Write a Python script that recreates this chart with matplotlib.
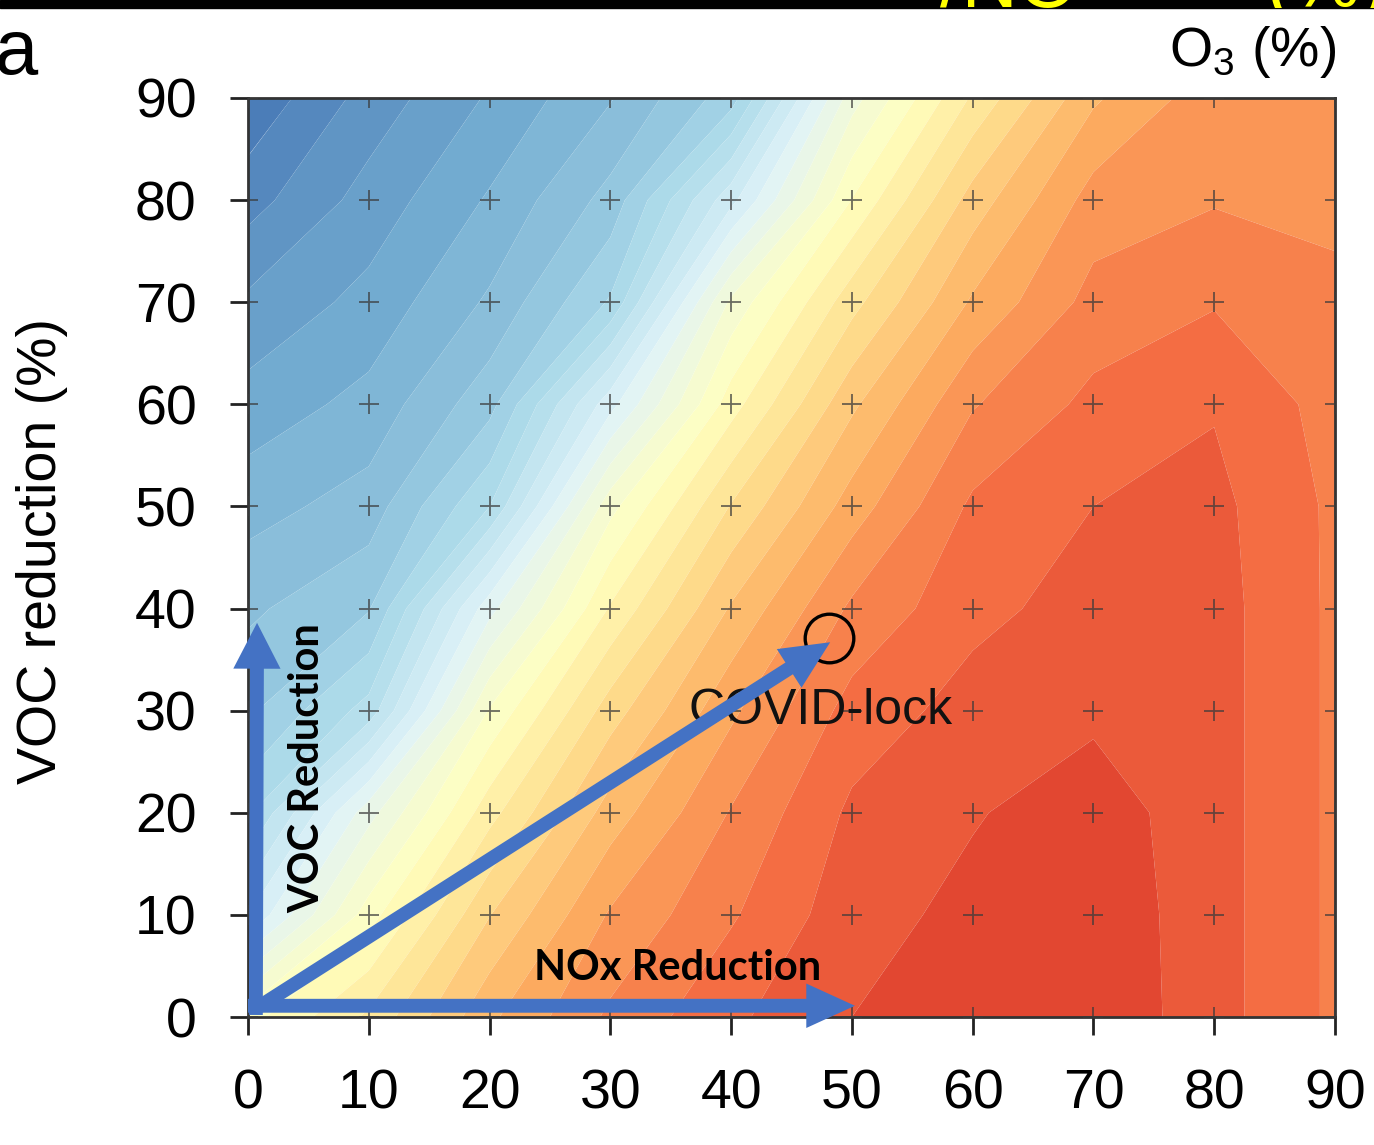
import numpy as np
import matplotlib
matplotlib.use("Agg")
import matplotlib.pyplot as plt
from matplotlib.colors import TwoSlopeNorm
from matplotlib.patches import FancyArrowPatch, Rectangle
from matplotlib.transforms import Bbox, TransformedBbox

plt.rcParams['font.family'] = ['Liberation Sans', 'DejaVu Sans']
plt.rcParams['mathtext.fontset'] = 'custom'
plt.rcParams['mathtext.rm'] = 'Liberation Sans'

# ---------------- data ----------------
nox_reduction = [0, 10, 20, 30, 40, 50, 60, 70, 80, 90]
voc_reduction = [0, 10, 20, 30, 40, 50, 60, 70, 80, 90]
# O3 change (%) ; rows = VOC reduction, columns = NOx reduction
o3_voc0  = [4.0, 10.5, 19.5, 25.5, 29.5, 32.5, 34.0, 34.5, 31.0, 27.0]
o3_voc10 = [-10.0, 3.9, 14.9, 22.8, 27.2, 31.5, 33.2, 34.3, 31.0, 27.0]
o3_voc20 = [-18.0, -3.5, 9.1, 18.7, 25.2, 30.5, 32.3, 33.8, 31.0, 27.0]
o3_voc30 = [-23.0, -16.5, 2.8, 13.8, 22.0, 28.5, 31.0, 32.0, 31.0, 27.0]
o3_voc40 = [-25.5, -22.7, -5.9, 7.8, 17.8, 25.5, 29.3, 31.0, 31.0, 27.0]
o3_voc50 = [-28.5, -26.4, -17.5, 1.7, 12.7, 21.2, 28.0, 30.0, 30.7, 27.0]
o3_voc60 = [-31.5, -29.2, -23.4, -8.4, 6.4, 17.0, 24.8, 28.2, 29.8, 26.5]
o3_voc70 = [-34.5, -31.7, -27.1, -19.7, 0.6, 11.6, 20.4, 25.9, 27.3, 25.5]
o3_voc80 = [-38.5, -34.0, -29.7, -24.1, -10.8, 5.1, 16.1, 23.6, 24.8, 24.5]
o3_voc90 = [-42.0, -36.5, -32.2, -27.7, -21.2, -1.1, 10.4, 19.6, 24.0, 24.0]

covid_point = (48.1, 37.1)
covid_label = "COVID-lock"
tick_values = [0, 10, 20, 30, 40, 50, 60, 70, 80, 90]

Z = np.array([o3_voc0, o3_voc10, o3_voc20, o3_voc30, o3_voc40,
              o3_voc50, o3_voc60, o3_voc70, o3_voc80, o3_voc90])
X, Y = np.meshgrid(nox_reduction, voc_reduction)

# ---------------- figure ----------------
W, H = 1374, 1145
fig = plt.figure(figsize=(W / 100, H / 100), dpi=100)
ax = fig.add_axes([248 / W, 1 - 1017 / H, 1087 / W, 919 / H])

levels = np.arange(-42.5, 37.6, 2.5)
norm = TwoSlopeNorm(vmin=-55, vcenter=5, vmax=45)
ax.contourf(X, Y, Z, levels=levels, cmap='RdYlBu_r', norm=norm, antialiased=True)

# grid plus markers
ax.plot(X.ravel(), Y.ravel(), '+', ms=14, mew=1.3, color='#3a3a3a', alpha=0.75,
        clip_on=True, zorder=3)

# COVID-lock point
ax.plot(*covid_point, 'o', mfc='none', mec='black', ms=35, mew=2.4, zorder=5)
ax.text(47.4, 30.0, covid_label, fontsize=36, ha='center', va='center',
        color='#111111', zorder=5)

ax.set_xlim(0, 90)
ax.set_ylim(0, 90)
ax.set_xticks(tick_values)
ax.set_yticks(tick_values)
ax.tick_params(direction='out', length=13, width=2, labelsize=40, pad=24,
               color='#222222')
for sp in ax.spines.values():
    sp.set_linewidth(2)
    sp.set_color('#333333')

# blue arrows
arrow_col = '#4472C4'
def arrow(p0, p1, hl, hw):
    a = FancyArrowPatch(p0, p1, arrowstyle=f"simple,head_length={hl},head_width={hw},tail_width=10",
                        mutation_scale=1, color=arrow_col, shrinkA=0, shrinkB=0,
                        clip_on=False, zorder=6, lw=0)
    ax.add_patch(a)

arrow((0.65, 0.2), (0.75, 38.6), 33, 34)
arrow((0.0, 1.1), (50.25, 1.1), 35, 32)
arrow((0.9, 1.0), (48.2, 36.7), 35, 33)

bold_font = ['Lato', 'DejaVu Sans']
ax.text(4.9, 24.4, "VOC Reduction", rotation=90, fontsize=30, fontweight='bold',
        family=bold_font, ha='center', va='center', color='black', zorder=7)
ax.text(35.6, 4.8, "NOx Reduction", fontsize=30, fontweight='bold',
        family=bold_font, ha='center', va='center', color='black', zorder=7)

# axis label and panel annotations
fig.text(42 / W, 1 - 551 / H, "VOC reduction (%)", rotation=90, fontsize=40,
         ha='center', va='center')
fig.text(-5 / W, 1 - 74 / H, "a", fontsize=56, ha='left', va='baseline')
fig.text(1336 / W, 1 - 66 / H, r"O$_{\mathrm{3}}$ (%)", fontsize=40,
         ha='right', va='baseline')

# top black band with cut yellow title
band_h = 8 / H
fig.patches.append(Rectangle((0, 1 - band_h), 1, band_h, transform=fig.transFigure,
                             color='black', zorder=0))
clipbox = TransformedBbox(Bbox([[0, 1 - band_h], [1, 1]]), fig.transFigure)
for xs, s, ha in [(1078, "/NO", 'right'), (1265, "(%)", 'left')]:
    t = fig.text(xs / W, 1 - 7 / H, s, fontsize=56, color='yellow', ha=ha,
                 va='baseline')
    t.set_clip_box(clipbox)
    t.set_clip_on(True)

fig.savefig("out.png", dpi=100)
